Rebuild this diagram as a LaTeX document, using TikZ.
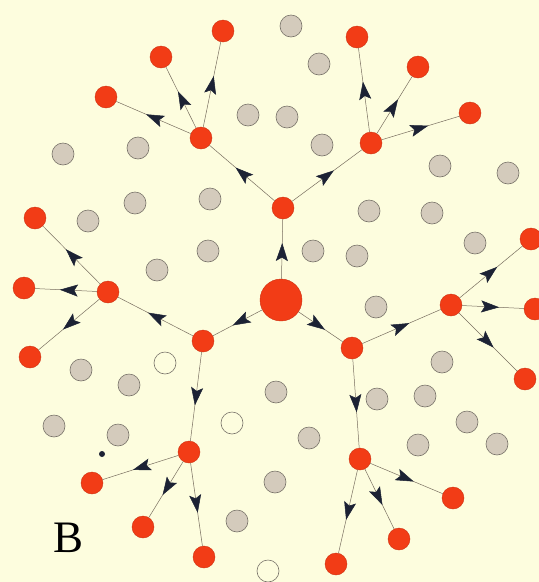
\documentclass[tikz,border=0pt]{standalone}
\usepackage{fontspec}
\setmainfont{Liberation Serif}
\usetikzlibrary{arrows.meta, decorations.markings}
\definecolor{papercolor}{RGB}{253,253,222}
\definecolor{redcolor}{RGB}{242,60,22}
\definecolor{greycolor}{RGB}{212,203,188}
\definecolor{rimcolor}{RGB}{120,115,105}
\definecolor{linkcolor}{RGB}{120,110,95}
\definecolor{tipcolor}{RGB}{28,34,52}

\tikzset{
    core/.style={circle, fill=redcolor, draw=redcolor!85!black, line width=0.4pt, minimum size=42pt, inner sep=0pt},
    redcell/.style={circle, fill=redcolor, draw=redcolor!85!black, line width=0.4pt, minimum size=22pt, inner sep=0pt},
    cell/.style={circle, fill=greycolor, draw=rimcolor, line width=0.6pt, minimum size=22pt, inner sep=0pt},
    emptycell/.style={circle, fill=papercolor, draw=rimcolor, line width=0.6pt, minimum size=22pt, inner sep=0pt},
    link/.style={draw=linkcolor, line width=0.5pt, postaction={decorate},
        decoration={markings, mark=at position 0.6 with {\arrow{Stealth[length=18pt, width=12pt, inset=3.5pt, color=tipcolor]}}}}
}

\begin{document}
\begin{tikzpicture}[x=1pt, y=-1pt]
    % paper
    \fill[papercolor] (0,0) rectangle (539,582);
    \useasboundingbox (0,0) rectangle (539,582);

    % Grey cells
    \node[cell] (s1) at (291,26) {};
    \node[cell] (s2) at (319,64) {};
    \node[cell] (s3) at (248,115) {};
    \node[cell] (s4) at (287,117) {};
    \node[cell] (s5) at (138,148) {};
    \node[cell] (s6) at (63,154) {};
    \node[cell] (s7) at (322,145) {};
    \node[cell] (s8) at (440,166) {};
    \node[cell] (s9) at (508,173) {};
    \node[cell] (s10) at (135,203) {};
    \node[cell] (s11) at (210,199) {};
    \node[cell] (s12) at (88,221) {};
    \node[cell] (s13) at (369,211) {};
    \node[cell] (s14) at (432,213) {};
    \node[cell] (s15) at (208,251) {};
    \node[cell] (s16) at (157,270) {};
    \node[cell] (s17) at (313,251) {};
    \node[cell] (s18) at (357,256) {};
    \node[cell] (s19) at (475,243) {};
    \node[cell] (s20) at (376,307) {};
    \node[cell] (s21) at (442,362) {};
    \node[cell] (s22) at (81,370) {};
    \node[cell] (s23) at (129,385) {};
    \node[cell] (s24) at (377,399) {};
    \node[cell] (s25) at (425,396) {};
    \node[cell] (s26) at (467,422) {};
    \node[cell] (s27) at (276,392) {};
    \node[cell] (s28) at (54,426) {};
    \node[cell] (s29) at (118,435) {};
    \node[cell] (s30) at (309,438) {};
    \node[cell] (s31) at (418,445) {};
    \node[cell] (s32) at (497,444) {};
    \node[cell] (s33) at (275,482) {};
    \node[cell] (s34) at (237,521) {};

    % Empty cells and the speck
    \node[emptycell] (o1) at (165,363) {};
    \node[emptycell] (o2) at (232,423) {};
    \node[emptycell] (o3) at (268,571) {};
    \fill[tipcolor] (102,454) circle (3pt);

    % Centre
    \node[core] (c) at (281,300) {};

    % First ring
    \node[redcell] (n1) at (283,208) {};
    \node[redcell] (n2) at (352,348) {};
    \node[redcell] (n3) at (203,341) {};

    % Second ring
    \node[redcell] (a) at (201,138) {};
    \node[redcell] (b) at (371,143) {};
    \node[redcell] (d) at (451,305) {};
    \node[redcell] (e) at (360,459) {};
    \node[redcell] (f) at (108,292) {};
    \node[redcell] (g) at (189,452) {};

    % Outer ring
    \node[redcell] (a1) at (106,97) {};
    \node[redcell] (a2) at (161,57) {};
    \node[redcell] (a3) at (223,31) {};
    \node[redcell] (b1) at (357,37) {};
    \node[redcell] (b2) at (418,67) {};
    \node[redcell] (b3) at (470,113) {};
    \node[redcell] (d1) at (531,239) {};
    \node[redcell] (d2) at (535,309) {};
    \node[redcell] (d3) at (525,379) {};
    \node[redcell] (e1) at (453,498) {};
    \node[redcell] (e2) at (399,539) {};
    \node[redcell] (e3) at (336,564) {};
    \node[redcell] (f1) at (35,218) {};
    \node[redcell] (f2) at (24,288) {};
    \node[redcell] (f3) at (30,357) {};
    \node[redcell] (g1) at (92,483) {};
    \node[redcell] (g2) at (143,527) {};
    \node[redcell] (g3) at (204,557) {};

    % Links
    \draw[link] (c) -- (n1);
    \draw[link] (c) -- (n2);
    \draw[link] (c) -- (n3);
    \draw[link] (n1) -- (a);
    \draw[link] (n1) -- (b);
    \draw[link] (n2) -- (d);
    \draw[link] (n2) -- (e);
    \draw[link] (n3) -- (f);
    \draw[link] (n3) -- (g);
    \draw[link] (a) -- (a1);
    \draw[link] (a) -- (a2);
    \draw[link] (a) -- (a3);
    \draw[link] (b) -- (b1);
    \draw[link] (b) -- (b2);
    \draw[link] (b) -- (b3);
    \draw[link] (d) -- (d1);
    \draw[link] (d) -- (d2);
    \draw[link] (d) -- (d3);
    \draw[link] (e) -- (e1);
    \draw[link] (e) -- (e2);
    \draw[link] (e) -- (e3);
    \draw[link] (f) -- (f1);
    \draw[link] (f) -- (f2);
    \draw[link] (f) -- (f3);
    \draw[link] (g) -- (g1);
    \draw[link] (g) -- (g2);
    \draw[link] (g) -- (g3);

    % Panel letter
    \node[font=\fontsize{45}{45}\selectfont] (label) at (69,538) {B};
\end{tikzpicture}
\end{document}
